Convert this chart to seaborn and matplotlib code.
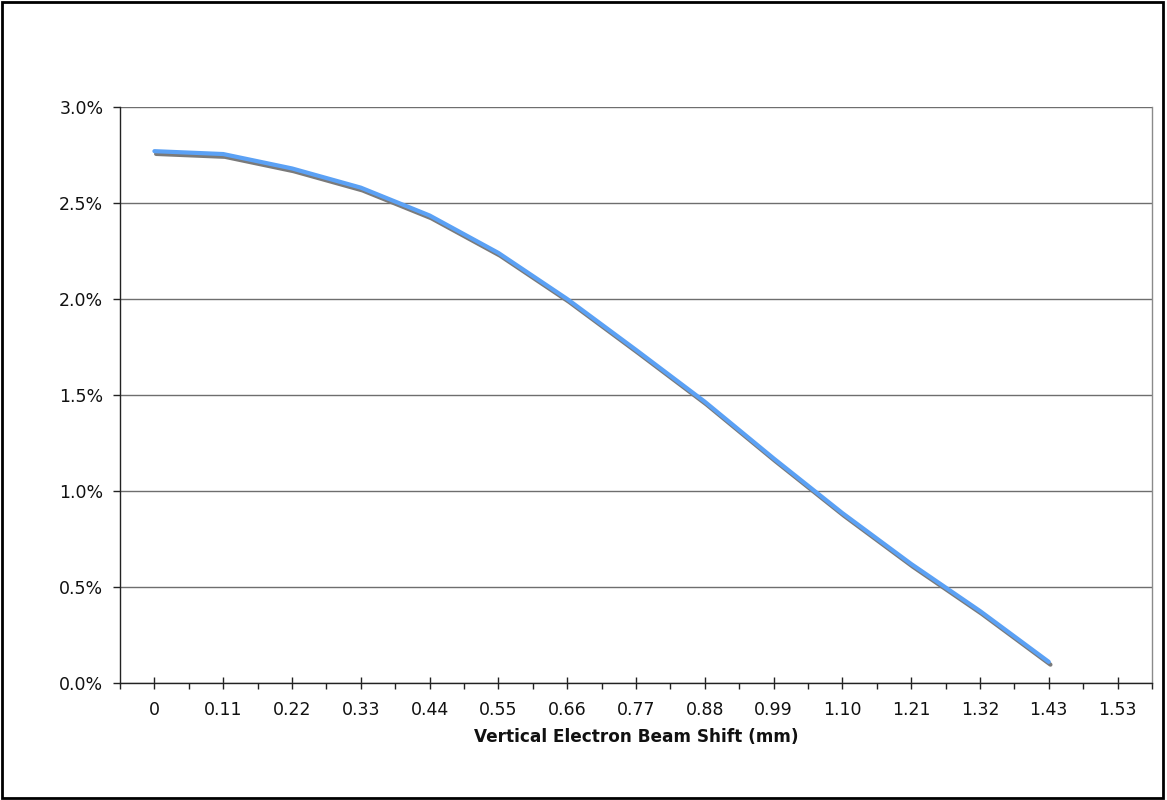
import numpy as np
import pandas as pd
import matplotlib
matplotlib.use("Agg")
import matplotlib.pyplot as plt
import matplotlib.patheffects as pe
from matplotlib.patches import Rectangle
from matplotlib.ticker import FuncFormatter, MultipleLocator
import seaborn as sns

# Data
categories = ["0", "0.11", "0.22", "0.33", "0.44", "0.55", "0.66", "0.77",
              "0.88", "0.99", "1.10", "1.21", "1.32", "1.43", "1.53"]
values_pct = [2.77, 2.755, 2.68, 2.58, 2.435, 2.24, 2.00, 1.735,
              1.465, 1.17, 0.885, 0.62, 0.375, 0.11]
x_label = "Vertical Electron Beam Shift (mm)"

sns.set_style("white")
plt.rcParams['font.family'] = ['DejaVu Sans']

df = pd.DataFrame({"pos": np.arange(len(values_pct)),
                   "value": np.array(values_pct) / 100.0})

fig = plt.figure(figsize=(11.67, 8.0), dpi=100)
ax = fig.add_axes([120/1167, 1-683/800, (1152-120)/1167, (683-107)/800])

sns.lineplot(data=df, x="pos", y="value", ax=ax, color="#5BA1F5", linewidth=3.0,
             path_effects=[pe.SimpleLineShadow(offset=(1.2, -2.0), shadow_color="#7a7a7a", alpha=1.0),
                           pe.Normal()])

ax.set_xlim(-0.5, len(categories) - 0.5)
ax.set_ylim(0, 0.03)
ax.yaxis.set_major_locator(MultipleLocator(0.005))
ax.yaxis.set_major_formatter(FuncFormatter(lambda v, p: f"{v*100:.1f}%"))
ax.set_xticks(np.arange(len(categories)))
ax.set_xticklabels(categories)
ax.set_xticks(np.arange(len(categories) + 1) - 0.5, minor=True)

ax.grid(axis="y", color="#6e6e6e", linewidth=1.0)
ax.grid(axis="x", visible=False)
ax.set_axisbelow(True)

for s in ["left", "bottom"]:
    ax.spines[s].set_color("#222222")
    ax.spines[s].set_linewidth(1.0)
ax.spines["right"].set_color("#8a8a8a")
ax.spines["right"].set_linewidth(1.0)
ax.spines["top"].set_visible(False)

ax.tick_params(axis="y", which="major", direction="out", length=5, width=1,
               color="#222222", labelsize=12.5, labelcolor="#111111", pad=7, left=True)
ax.tick_params(axis="x", which="major", direction="inout", length=8, width=1,
               color="#222222", labelsize=12.5, labelcolor="#111111", pad=9, bottom=True)
ax.tick_params(axis="x", which="minor", direction="out", length=4, width=1,
               color="#222222", bottom=True)

ax.set_xlabel("")
ax.set_ylabel("")
fig.text(636/1167, 1-737/800, x_label, ha="center", va="center",
         fontsize=12.2, fontweight="bold", color="#111111")

fig.patches.append(Rectangle((0.002, 0.003), 0.995, 0.994, transform=fig.transFigure,
                             fill=False, edgecolor="black", linewidth=2.0))

fig.savefig("out.png", dpi=100)
